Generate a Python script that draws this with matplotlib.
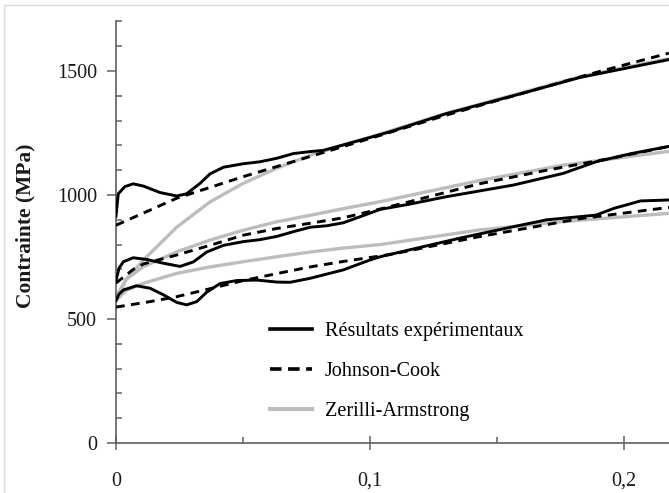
import matplotlib
matplotlib.use("Agg")
import matplotlib.pyplot as plt
from matplotlib.patches import Rectangle
from matplotlib.ticker import MultipleLocator, FixedLocator

# ---- data (strain, stress MPa) ----
exp_top_x = [0, 0.0009, 0.0035, 0.0068, 0.0108, 0.0173, 0.0239, 0.0278, 0.0331, 0.037, 0.0423,
             0.0501, 0.0567, 0.0633, 0.0698, 0.0764, 0.0816, 0.0895, 0.1, 0.1079, 0.130,
             0.1564, 0.1827, 0.2177]
exp_top_y = [915, 1005, 1034, 1045, 1036, 1010, 996, 1005, 1047, 1085, 1112,
             1126, 1134, 1148, 1167, 1175, 1180, 1202, 1232, 1255, 1328,
             1400, 1474, 1546]

exp_mid_x = [0, 0.0012, 0.0029, 0.0068, 0.0121, 0.0186, 0.0252, 0.0304, 0.0357, 0.0423, 0.0501,
             0.0567, 0.0633, 0.0698, 0.0764, 0.083, 0.0895, 0.096, 0.104, 0.115, 0.130,
             0.1564, 0.176, 0.189, 0.2024, 0.2177]
exp_mid_y = [655, 705, 731, 747, 740, 725, 712, 730, 770, 797, 812,
             820, 833, 852, 870, 876, 888, 912, 942, 962, 993,
             1040, 1087, 1134, 1166, 1196]

exp_low_x = [0, 0.0012, 0.0029, 0.0081, 0.0134, 0.0186, 0.0239, 0.0278, 0.0318, 0.0357, 0.041,
             0.0475, 0.0554, 0.0633, 0.0685, 0.0764, 0.0895, 0.1, 0.104, 0.1236, 0.1367,
             0.1564, 0.1696, 0.183, 0.189, 0.196, 0.2065, 0.2177]
exp_low_y = [575, 600, 617, 634, 624, 598, 567, 557, 570, 608, 643,
             655, 657, 649, 648, 664, 698, 738, 751, 798, 829,
             872, 900, 913, 919, 946, 976, 980]

jc_top_x = [0, 0.0239, 0.0501, 0.0764, 0.1, 0.13, 0.16, 0.19, 0.2177]
jc_top_y = [878, 987, 1074, 1155, 1228, 1322, 1410, 1497, 1572]

jc_mid_x = [0, 0.0068, 0.0108, 0.0239, 0.037, 0.0501, 0.0633, 0.0764, 0.0895, 0.1026,
            0.1144, 0.143, 0.1696, 0.196, 0.2177]
jc_mid_y = [645, 700, 722, 758, 797, 838, 865, 886, 908, 940,
            970, 1045, 1100, 1150, 1196]

jc_low_x = [0, 0.0134, 0.0239, 0.037, 0.0501, 0.0633, 0.0764, 0.0895, 0.1079, 0.143, 0.183, 0.2177]
jc_low_y = [548, 570, 590, 622, 655, 683, 710, 732, 760, 832, 905, 950]

za_top_x = [0, 0.004, 0.0108, 0.0239, 0.037, 0.0501, 0.0633, 0.0764, 0.0895, 0.1, 0.13,
            0.156, 0.183, 0.2177]
za_top_y = [570, 660, 738, 870, 972, 1047, 1108, 1160, 1202, 1233, 1329,
            1402, 1478, 1550]

za_mid_x = [0, 0.004, 0.0108, 0.0239, 0.037, 0.0501, 0.0633, 0.0764, 0.0895, 0.104, 0.143,
            0.176, 0.2177]
za_mid_y = [590, 660, 711, 771, 818, 858, 892, 918, 945, 973, 1058,
            1120, 1176]

za_low_x = [0, 0.004, 0.0108, 0.0239, 0.037, 0.0501, 0.0633, 0.0764, 0.0895, 0.104, 0.143,
            0.176, 0.2177]
za_low_y = [575, 615, 644, 684, 710, 731, 751, 770, 786, 800, 859,
            893, 926]

legend_labels = ["Résultats expérimentaux", "Johnson-Cook", "Zerilli-Armstrong"]
x_ticks = [0, 0.1, 0.2]
x_ticklabels = ["0", "0,1", "0,2"]
y_ticks = [0, 500, 1000, 1500]
y_label = "Contrainte (MPa)"

# ---- style ----
plt.rcParams['font.family'] = ['Liberation Serif', 'DejaVu Serif']
FS = 14.5
GRAY = '#bdbdbd'
SPINE = '#5f5f5f'

fig = plt.figure(figsize=(6.69, 4.93), dpi=100)
ax = fig.add_axes([116/669, 1 - 443/493, 553/669, (443 - 21.4)/493])

fig.patches.append(Rectangle((4/669, -0.2), 1.5, 0.2 + 1 - 5/493, transform=fig.transFigure,
                             fill=False, edgecolor='#dcdcdc', lw=1.0, zorder=0))

lw = 2.1
for xs, ys in [(za_top_x, za_top_y), (za_mid_x, za_mid_y), (za_low_x, za_low_y)]:
    ax.plot(xs, ys, color=GRAY, lw=2.4, solid_capstyle='butt', zorder=2)
for xs, ys in [(jc_top_x, jc_top_y), (jc_mid_x, jc_mid_y), (jc_low_x, jc_low_y)]:
    ax.plot(xs, ys, color='black', lw=lw, dashes=(3, 2.2), zorder=3)
for xs, ys in [(exp_top_x, exp_top_y), (exp_mid_x, exp_mid_y), (exp_low_x, exp_low_y)]:
    ax.plot(xs, ys, color='black', lw=lw, zorder=4)

# legend handles
h1, = ax.plot([], [], color='black', lw=2.6)
h2, = ax.plot([], [], color='black', lw=2.6, dashes=(3.2, 1.8))
h3, = ax.plot([], [], color=GRAY, lw=3.0)
ax.legend([h1, h2, h3], legend_labels, loc='upper left', bbox_to_anchor=(0.2785, 0.288),
          frameon=False, fontsize=FS, handlelength=2.1, handletextpad=0.62,
          labelspacing=1.05, borderpad=0, borderaxespad=0)

ax.set_xlim(0, 553/2540)
ax.set_ylim(0, 1700)

for s in ['top', 'right']:
    ax.spines[s].set_visible(False)
for s in ['left', 'bottom']:
    ax.spines[s].set_color(SPINE)
    ax.spines[s].set_linewidth(1.2)

ax.xaxis.set_major_locator(FixedLocator(x_ticks))
ax.set_xticklabels(x_ticklabels)
ax.xaxis.set_minor_locator(FixedLocator([0.05, 0.15]))
ax.yaxis.set_major_locator(FixedLocator(y_ticks))
ax.yaxis.set_minor_locator(MultipleLocator(100))

ax.tick_params(axis='x', which='major', direction='inout', length=9.5, width=1.1,
               color=SPINE, labelsize=FS, pad=16, labelcolor='#1a1a1a')
ax.tick_params(axis='x', which='minor', direction='in', length=4.5, width=1.1, color=SPINE)
ax.tick_params(axis='y', which='major', direction='out', length=6.5, width=1.1,
               color=SPINE, labelsize=FS, pad=7, labelcolor='#1a1a1a')
ax.tick_params(axis='y', which='minor', direction='in', length=4.2, width=1.1, color=SPINE)

ax.set_ylabel(y_label, fontsize=15.5, fontweight='bold', color='#1a1a1a')
ax.yaxis.set_label_coords(-0.146, 0.515)

fig.savefig('out.png', dpi=100)
